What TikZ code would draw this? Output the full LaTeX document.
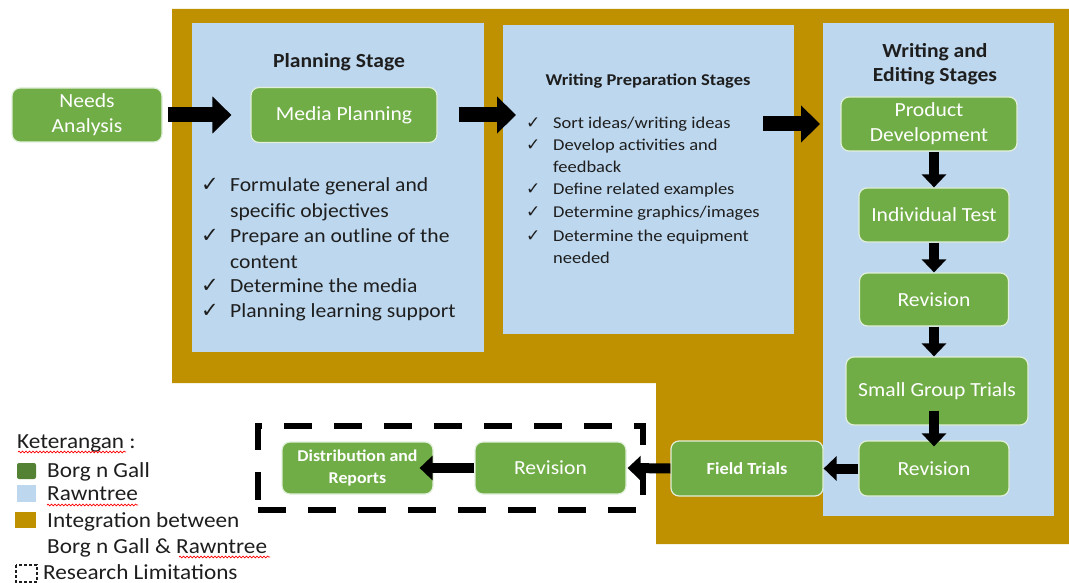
\documentclass[tikz,border=0pt]{standalone}
\usepackage{fontspec}
\setmainfont[FakeStretch=1.08]{Carlito}
\newfontfamily\widefont[FakeStretch=1.12]{Carlito}
\newfontfamily\symfont{DejaVu Sans}
\usetikzlibrary{arrows.meta,decorations.pathmorphing}
\definecolor{gold}{HTML}{BF9000}
\definecolor{paleblue}{HTML}{BDD7EE}
\definecolor{leafgreen}{HTML}{70AD47}
\definecolor{darkgreen}{HTML}{548235}
\definecolor{ink}{HTML}{1E1E1E}
\newcommand{\fsz}[2]{\fontsize{#1}{#2}\selectfont}

\begin{document}
\begin{tikzpicture}[x=1pt,y=-1pt,
  gbox/.style={rectangle,rounded corners=8pt,fill=leafgreen,draw=white!80!leafgreen,
    line width=1.2pt,text=white,align=center,inner sep=0pt,font=\fsz{20}{25}},
  panel/.style={rectangle,fill=paleblue,inner sep=0pt,anchor=north west},
  title/.style={anchor=base,text=ink,align=center,inner sep=0pt},
  listline/.style={anchor=base west,text=ink,inner sep=0pt},
  bigarrow/.style={line width=15pt,-{Triangle[length=19pt,width=36pt]}},
  smallarrow/.style={line width=10pt,-{Triangle[length=13pt,width=24pt]}},
  spell/.style={red,line width=0.7pt,decorate,decoration={snake,amplitude=0.9pt,segment length=3.5pt}},
  legtext/.style={anchor=base west,text=ink,inner sep=0pt,font=\fsz{21.5}{26}}]

\useasboundingbox (0,0) rectangle (1069,583);

% integration area
\fill[gold] (172,9) -- (1069,9) -- (1069,544) -- (656,544) -- (656,383) -- (172,383) -- cycle;

% stage panels
\node[panel,minimum width=292pt,minimum height=329pt] (planpanel) at (192,23) {};
\node[panel,minimum width=291pt,minimum height=309pt] (preppanel) at (503,25) {};
\node[panel,minimum width=231pt,minimum height=493pt] (editpanel) at (823,23) {};

% panel titles
\node[title,font=\bfseries\fsz{20}{25}] (plantitle) at (339,68) {Planning Stage};
\node[title,font=\widefont\bfseries\fsz{16.5}{20}] (preptitle) at (648,86) {Writing Preparation Stages};
\node[title,font=\bfseries\fsz{20}{24}] (edittitle1) at (935,58) {Writing and};
\node[title,font=\bfseries\fsz{20}{24}] (edittitle2) at (935,82) {Editing Stages};

% planning checklist
\foreach \yy/\cc/\txt [count=\i] in {
  192/1/Formulate general and,
  218/0/specific objectives,
  243/1/Prepare an outline of the,
  268/0/content,
  292/1/Determine the media,
  317/1/Planning learning support}{
  \node[listline,font=\fsz{20}{25}] (plan\i) at (230,\yy) {\txt};
  \ifnum\cc=1
    \node[listline,font=\symfont\fsz{21}{24}] (planchk\i) at (201,\yy) {✓};
  \fi
}

% writing preparation checklist
\foreach \yy/\cc/\txt [count=\i] in {
  129/1/{Sort ideas/writing ideas},
  151/1/{Develop activities and},
  173/0/{feedback},
  195/1/{Define related examples},
  218/1/{Determine graphics/images},
  241/1/{Determine the equipment},
  263/0/{needed}}{
  \node[listline,font=\widefont\fsz{16.5}{22}] (prep\i) at (553,\yy) {\txt};
  \ifnum\cc=1
    \node[listline,font=\symfont\fsz{17}{20}] (prepchk\i) at (526,\yy) {✓};
  \fi
}

% process steps
\node[gbox,minimum width=150pt,minimum height=54pt] (needs) at (87,115) {Needs\\Analysis};
\node[gbox,minimum width=186pt,minimum height=55pt] (media) at (344,115) {Media Planning};
\node[gbox,minimum width=176pt,minimum height=54pt] (prod) at (929,124) {Product\\Development};
\node[gbox,minimum width=150pt,minimum height=54pt] (indiv) at (934,215) {Individual Test};
\node[gbox,minimum width=149pt,minimum height=53pt] (rev1) at (934,299.5) {Revision};
\node[gbox,minimum width=182pt,minimum height=68pt] (small) at (937,391) {Small Group Trials};
\node[gbox,minimum width=150pt,minimum height=55pt] (rev2) at (934,468.5) {Revision};
\node[gbox,minimum width=152pt,minimum height=55pt,font=\bfseries\fsz{17}{21}] (field) at (747,468.5) {Field Trials};
\node[gbox,minimum width=151pt,minimum height=52pt] (rev3) at (550.5,468) {Revision};
\node[gbox,minimum width=151pt,minimum height=52pt,font=\bfseries\fsz{16.5}{22}] (dist) at (357.5,468) {Distribution and\\Reports};

% research limitations frame
\node[draw=black,line width=6pt,dash pattern=on 28pt off 22pt,inner sep=0pt,
  minimum width=385pt,minimum height=84pt] (limits) at (450.5,468) {};

% connectors
\draw[bigarrow] ([xshift=5pt]needs.east) -- ([xshift=-19pt]media.west);
\draw[bigarrow] ([xshift=21pt]media.east) -- ([xshift=13pt]media.east -| preppanel.west);
\draw[bigarrow] ([xshift=-31pt]preppanel.east |- prod.west) -- ([xshift=-3pt]editpanel.west |- prod.west);
\draw[smallarrow] (indiv.north |- prod.south) -- (indiv.north);
\draw[smallarrow] (indiv.south) -- (rev1.north);
\draw[smallarrow] (rev1.south) -- (rev1.south |- small.north);
\draw[smallarrow] ([yshift=15pt]rev1.south |- small.south) -- ([yshift=-6pt]rev2.north);
\draw[smallarrow] (rev2.west) -- (field.east);
\draw[smallarrow] (field.west) -- ([xshift=1pt]rev3.east);
\draw[smallarrow] (rev3.west) -- ([xshift=-14pt]dist.east);

% legend
\node[legtext] (legtitle) at (17,448) {Keterangan :};
\fill[darkgreen,rounded corners=2pt] (17,463) rectangle (36,479);
\node[legtext] (legbg) at (47,477) {Borg n Gall};
\fill[paleblue] (17,485) rectangle (36,502);
\node[legtext] (legrt) at (47,500) {Rawntree};
\fill[gold] (15,512) rectangle (36,528);
\node[legtext] (legint1) at (47,527) {Integration between};
\node[legtext] (legint2) at (47,553) {Borg n Gall \& Rawntree};
\draw[ink,line width=1.3pt,dash pattern=on 3pt off 2pt] (16,565) rectangle (37,582);
\node[legtext] (leglim) at (43,579) {Research Limitations};

% spelling marks
\draw[spell] (18,452) -- (126,452);
\draw[spell] (47,505) -- (138,505);
\draw[spell] (179,557) -- (270,557);

\end{tikzpicture}
\end{document}
